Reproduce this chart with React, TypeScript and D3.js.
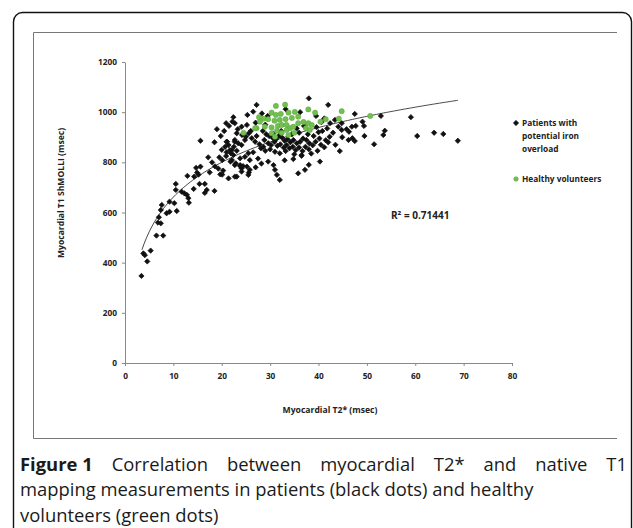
import React, { useEffect, useRef } from 'react';
import * as d3 from 'd3';

// patients with potential iron overload: [T2* (msec), T1 ShMOLLI (msec)]
const patients: [number, number][] = [
  [3.4, 347], [4.6, 405], [3.8, 437], [4.1, 430], [5.3, 448], [6.5, 508], [7.9, 508], [6.8, 560],
  [7.4, 557], [7.0, 581], [7.4, 610], [7.6, 630], [8.6, 597], [9.2, 603], [10.7, 606], [9.2, 643],
  [10.2, 637], [10.5, 714], [10.5, 690], [11.7, 683], [12.3, 676], [12.8, 670], [13.1, 657], [13.2, 639],
  [12.9, 746], [14.3, 743], [14.2, 694], [15.4, 714], [16.5, 714], [16.5, 678], [18.5, 686], [14.7, 778],
  [15.6, 783], [14.9, 759], [15.2, 751], [15.6, 886], [18.6, 784], [19.3, 775], [20.3, 767], [19.7, 752],
  [20.1, 751], [21.4, 736], [22.7, 743], [20.1, 809], [20.9, 825], [21.0, 840], [21.9, 836], [22.1, 849],
  [22.5, 862], [22.7, 882], [21.1, 882], [21.8, 803], [22.9, 796], [23.8, 785], [24.4, 785],
  [28.5, 925], [29.2, 912], [29.8, 905], [30.5, 898], [31.2, 892], [31.8, 905], [32.5, 898], [33.0, 886],
  [33.6, 892], [34.2, 880], [34.8, 889], [35.5, 876], [36.2, 882], [36.8, 895], [37.5, 889], [38.1, 876],
  [38.8, 868], [39.4, 882], [28.8, 889], [29.6, 876], [30.2, 869], [30.9, 882], [31.5, 866], [32.1, 872],
  [32.8, 859], [33.4, 869], [34.0, 856], [34.7, 862], [35.3, 849], [36.0, 859], [36.7, 845], [37.3, 862],
  [38.0, 852], [27.8, 872], [27.2, 905], [28.1, 856], [29.0, 846], [30.0, 852], [31.0, 842], [32.0, 836],
  [33.2, 845], [35.0, 832], [36.5, 826], [38.5, 835], [39.8, 846], [40.5, 870], [41.2, 860], [30.6, 915],
  [32.3, 925], [34.5, 912], [36.0, 918], [37.8, 912], [39.0, 905], [40.2, 895], [41.5, 888], [42.3, 902],
  [40.8, 925], [41.8, 935], [43.0, 918],
  [28.6, 862], [29.6, 803], [30.7, 789], [31.0, 770], [32.0, 730], [31.4, 750], [35.8, 756], [40.3, 803],
  [34.8, 813], [36.5, 829], [27.5, 815], [28.2, 795], [33.0, 808], [38.0, 790], [26.5, 840], [37.2, 770],
  [27.0, 780],
  [38.0, 1055], [27.2, 1029], [25.3, 989], [42.0, 1029], [22.7, 956], [24.1, 942], [25.2, 949], [23.1, 916],
  [24.2, 909], [25.0, 902], [25.6, 916], [22.7, 889], [23.4, 876], [24.1, 869], [24.8, 889], [26.2, 896],
  [26.9, 882], [42.4, 956], [44.1, 942], [26.5, 1002], [28.3, 995], [29.5, 985], [33.2, 1012], [36.2, 1000],
  [39.5, 985], [41.2, 975], [27.0, 958], [29.0, 950], [26.0, 925], [35.5, 935], [37.0, 945], [39.6, 940],
  [40.6, 960],
  [25.5, 836], [24.8, 822], [25.8, 809], [25.2, 783], [25.8, 770], [25.6, 759], [23.8, 789], [24.1, 776],
  [23.1, 743], [20.9, 956], [22.4, 980], [22.2, 962], [19.0, 932], [23.3, 932], [21.0, 882], [20.7, 862],
  [21.4, 869], [21.7, 849], [22.4, 829], [23.1, 846], [22.1, 809], [23.8, 816], [22.7, 789], [24.1, 763],
  [25.5, 750], [16.9, 690], [17.5, 760], [18.0, 800], [19.5, 820], [20.0, 850], [17.2, 820], [18.5, 880],
  [19.8, 905], [20.5, 925], [21.5, 945],
  [47.5, 993], [52.9, 985], [59.1, 980], [43.4, 969], [44.8, 956], [46.9, 942], [47.7, 945], [49.1, 962],
  [49.4, 945], [44.8, 929], [45.8, 932], [46.3, 922], [47.0, 896], [47.5, 885], [46.2, 889], [44.9, 900],
  [49.5, 905], [51.5, 872], [53.4, 909], [53.7, 926], [44.4, 845], [60.4, 905], [63.9, 918], [65.8, 913],
  [68.8, 886], [42.0, 880], [43.5, 870], [40.0, 920],
];

// healthy volunteers
const volunteers: [number, number][] = [
  [31.2, 1025], [33.1, 1030], [37.9, 1011], [39.3, 998], [30.3, 998], [31.2, 989], [32.2, 993], [33.8, 998],
  [35.1, 1001], [27.7, 980], [28.6, 974], [29.6, 972], [30.9, 966], [32.0, 969], [33.2, 972], [34.5, 977],
  [35.8, 982], [36.9, 961], [37.9, 956], [38.6, 949], [40.4, 962], [41.5, 972], [44.8, 1004], [44.2, 974],
  [27.9, 962], [27.2, 936], [28.9, 942], [30.3, 939], [31.6, 945], [32.4, 949], [33.4, 949], [34.1, 936],
  [34.8, 942], [35.8, 956], [37.4, 936], [38.2, 929], [24.5, 918], [26.9, 936], [30.3, 916], [31.4, 926],
  [32.4, 918], [33.8, 909], [35.0, 918], [33.4, 929], [31.0, 902], [50.7, 985],
];

const xTicks = [0, 10, 20, 30, 40, 50, 60, 70, 80];
const yTicks = [0, 200, 400, 600, 800, 1000, 1200];

// logarithmic trendline y = a*ln(x) + b
const trendA = 200;
const trendB = 201;
const trendFrom = 3.5;
const trendTo = 68.8;

const xTitle = 'Myocardial T2* (msec)';
const yTitle = 'Myocardial T1 ShMOLLI (msec)';
const legendPatients = ['Patients with', 'potential iron', 'overload'];
const legendHealthy = 'Healthy volunteers';
const rSquared = 'R² = 0.71441';

const captionFirst = ['Correlation', 'between', 'myocardial', 'T2*', 'and', 'native', 'T1'];
const captionRest = [
  'mapping measurements in patients (black dots) and healthy',
  'volunteers (green dots)',
];

const chartFont = '"Open Sans", "DejaVu Sans", sans-serif';

function App() {
  const ref = useRef<SVGSVGElement>(null);

  useEffect(() => {
    const svg = d3.select(ref.current);
    svg.selectAll('*').remove();

    const x = d3.scaleLinear().domain([0, 80]).range([125, 512]);
    const y = d3.scaleLinear().domain([0, 1200]).range([363, 62]);

    // frames
    svg.append('rect')
      .attr('x', 13.5).attr('y', 12.5)
      .attr('width', 618).attr('height', 600)
      .attr('rx', 9)
      .attr('fill', 'none').attr('stroke', '#111').attr('stroke-width', 1.4);

    svg.append('path')
      .attr('d', 'M617,32.5H33.5V438.5H617')
      .attr('fill', 'none').attr('stroke', '#777').attr('stroke-width', 1);

    // axes
    const yAxis = svg.append('g')
      .attr('transform', `translate(${x(0)},0)`)
      .call(d3.axisLeft(y).tickValues(yTicks).tickSize(3).tickSizeOuter(0).tickPadding(5).tickFormat(d3.format('d')));

    const xAxis = svg.append('g')
      .attr('transform', `translate(0,${y(0)})`)
      .call(d3.axisBottom(x).tickValues(xTicks).tickSize(3).tickSizeOuter(0).tickPadding(7).tickFormat(d3.format('d')));

    [yAxis, xAxis].forEach(g => {
      g.select('.domain').attr('stroke', '#888');
      g.selectAll('.tick line').attr('stroke', '#888');
      g.selectAll('.tick text')
        .attr('fill', '#222')
        .style('font-family', chartFont)
        .style('font-size', '8.3px')
        .style('font-weight', 700);
    });

    // axis titles
    svg.append('text')
      .attr('x', 330).attr('y', 413)
      .attr('text-anchor', 'middle')
      .style('font-family', chartFont).style('font-size', '8.6px').style('font-weight', 700)
      .attr('fill', '#222')
      .text(xTitle);

    svg.append('text')
      .attr('transform', 'translate(64,193) rotate(-90)')
      .attr('text-anchor', 'middle')
      .style('font-family', chartFont).style('font-size', '8.6px').style('font-weight', 700)
      .attr('fill', '#222')
      .text(yTitle);

    // trendline
    const trendXs = d3.range(trendFrom, trendTo, 0.5).concat([trendTo]);
    const line = d3.line<number>()
      .x(d => x(d))
      .y(d => y(trendA * Math.log(d) + trendB));
    svg.append('path')
      .datum(trendXs)
      .attr('d', line)
      .attr('fill', 'none')
      .attr('stroke', '#333')
      .attr('stroke-width', 0.9);

    // points
    const diamond = d3.symbol().type(d3.symbolSquare).size(14);
    svg.append('g')
      .selectAll('path')
      .data(patients)
      .join('path')
      .attr('d', diamond)
      .attr('transform', d => `translate(${x(d[0])},${y(d[1])}) rotate(45)`)
      .attr('fill', '#111')
      .attr('stroke', '#111')
      .attr('stroke-width', 0.7)
      .attr('stroke-linejoin', 'round');

    svg.append('g')
      .selectAll('circle')
      .data(volunteers)
      .join('circle')
      .attr('cx', d => x(d[0]))
      .attr('cy', d => y(d[1]))
      .attr('r', 2.6)
      .attr('fill', '#72c150')
      .attr('stroke', '#58a33a')
      .attr('stroke-width', 0.5);

    // R squared
    svg.append('text')
      .attr('x', 391).attr('y', 219)
      .style('font-family', chartFont).style('font-size', '10px').style('font-weight', 700)
      .attr('fill', '#222')
      .text(rSquared);

    // legend
    svg.append('path')
      .attr('d', diamond)
      .attr('transform', 'translate(516,123) rotate(45)')
      .attr('fill', '#111').attr('stroke', '#111').attr('stroke-width', 0.6);
    svg.append('text')
      .attr('y', 126)
      .style('font-family', chartFont).style('font-size', '8.3px').style('font-weight', 700)
      .attr('fill', '#222')
      .selectAll('tspan')
      .data(legendPatients)
      .join('tspan')
      .attr('x', 522)
      .attr('dy', (_, i) => (i === 0 ? 0 : 13))
      .text(d => d);

    svg.append('circle')
      .attr('cx', 516).attr('cy', 179).attr('r', 2.3)
      .attr('fill', '#72c150').attr('stroke', '#58a33a').attr('stroke-width', 0.5);
    svg.append('text')
      .attr('x', 522).attr('y', 182)
      .style('font-family', chartFont).style('font-size', '8.3px').style('font-weight', 700)
      .attr('fill', '#222')
      .text(legendHealthy);

    // caption, first line justified between 20 and 627
    const capFont = '"Open Sans", "Noto Sans", sans-serif';
    const cap = svg.append('g')
      .style('font-family', capFont).style('font-size', '18.4px')
      .attr('fill', '#1a1a1a');
    const words = [{ t: 'Figure 1', bold: true }].concat(captionFirst.map(t => ({ t, bold: false })));
    const nodes = words.map(w => cap.append('text')
      .attr('y', 470.5)
      .style('font-weight', w.bold ? 700 : 400)
      .text(w.t));
    const widths = nodes.map(n => (n.node() as SVGTextElement).getComputedTextLength());
    const gap = (607 - d3.sum(widths)) / (words.length - 1);
    let cx = 20;
    nodes.forEach((n, i) => {
      n.attr('x', cx);
      cx += widths[i] + gap;
    });
    captionRest.forEach((t, i) => {
      cap.append('text')
        .attr('x', 20)
        .attr('y', 496 + i * 25.5)
        .text(t);
    });
  }, []);

  return (
    <svg
      ref={ref}
      width={633}
      height={528}
      style={{ position: 'absolute', left: 0, top: 0, background: '#fff' }}
    />
  );
}

export default App;
